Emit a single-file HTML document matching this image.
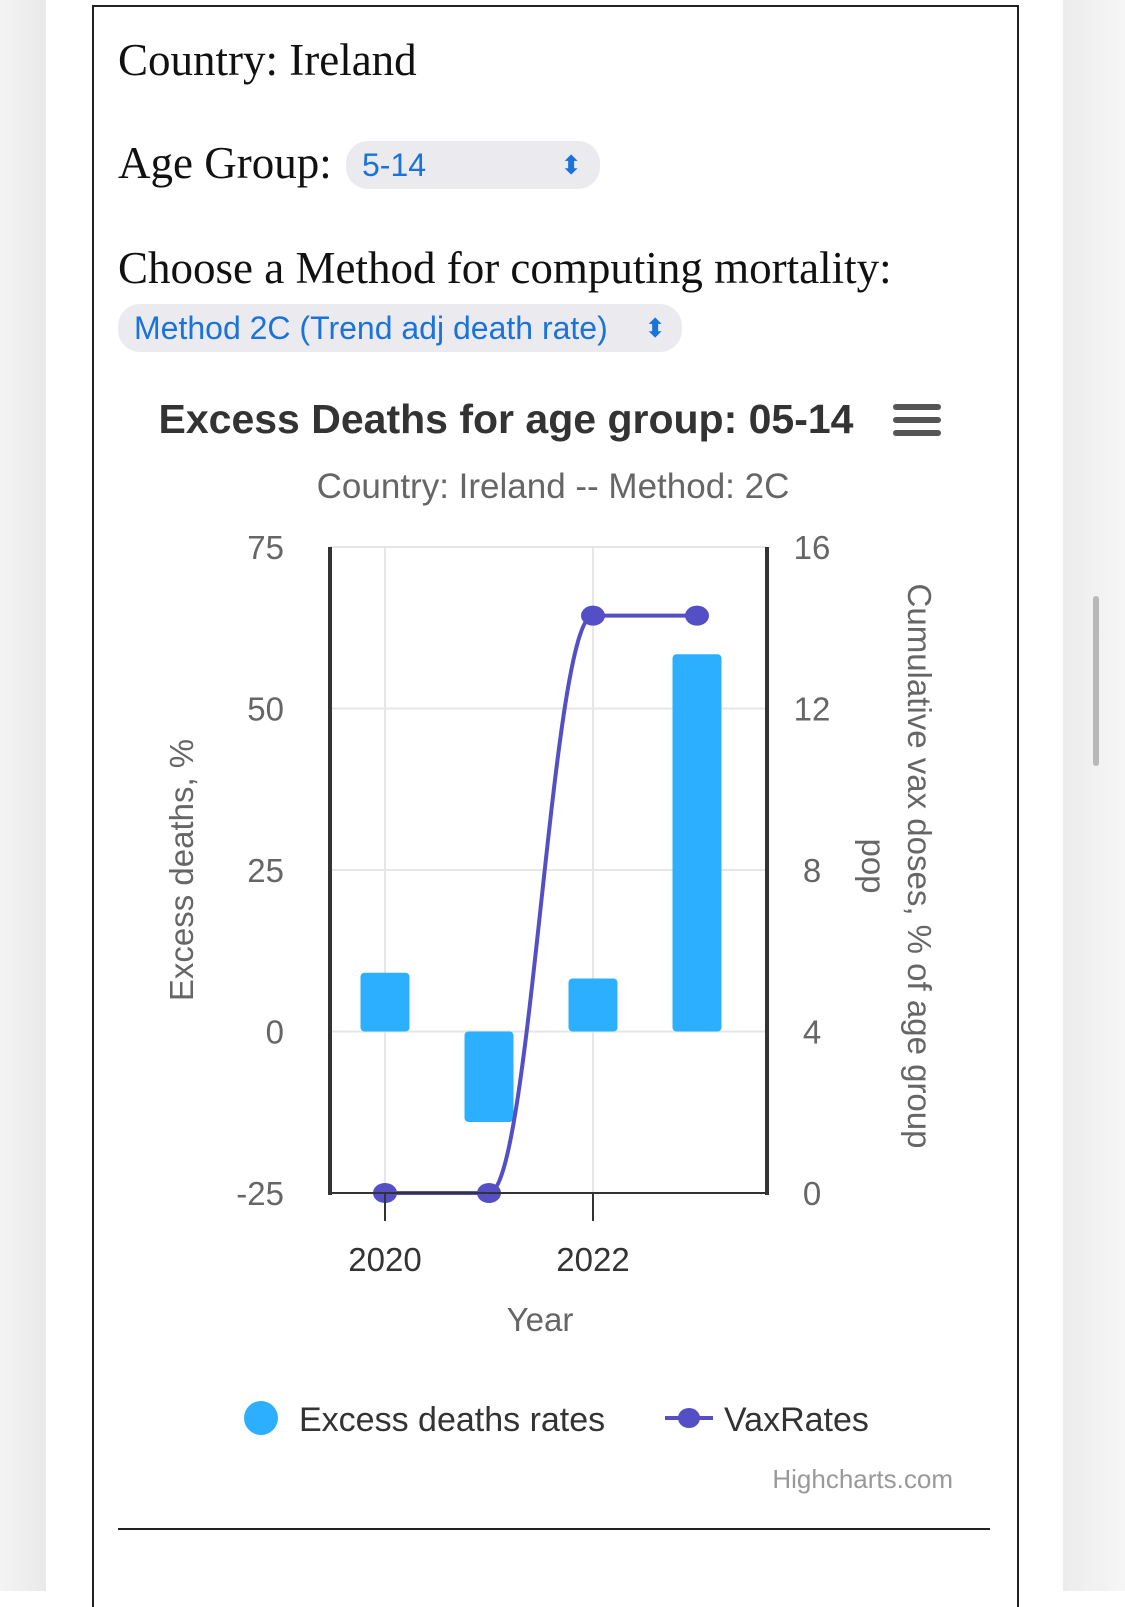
<!DOCTYPE html>
<html><head><meta charset="utf-8"><style>
body{margin:0;width:1125px;height:1591px;background:#fff;position:relative;overflow:hidden;font-family:"Liberation Sans",sans-serif}
.side-l{position:absolute;left:0;top:0;width:46px;height:1591px;background:linear-gradient(90deg,#f4f4f4,#e9e9e9)}
.side-r{position:absolute;right:0;top:0;width:62px;height:1591px;background:linear-gradient(90deg,#ececec,#f6f6f6)}
.box{position:absolute;left:92px;top:5px;width:923px;height:1600px;border:2px solid #222;border-bottom:none}
.serif{font-family:"Liberation Serif",serif;color:#111;position:absolute}
.sel{position:absolute;background:#ebebef;border-radius:22px;color:#1a73d9;font-size:32px;line-height:48px}
</style></head><body>
<div class="side-l"></div>
<div class="side-r"></div>
<div style="position:absolute;left:1093px;top:596px;width:6px;height:170px;border-radius:3px;background:#b8b8b8"></div>
<div class="box"></div>
<div class="serif" style="left:118px;top:34px;font-size:45px">Country: Ireland</div>
<div class="serif" style="left:118px;top:137px;font-size:45px">Age Group:</div>
<div class="sel" style="left:346px;top:141px;width:254px;padding-left:16px;box-sizing:border-box">5-14<span style="position:absolute;right:18px;font-size:26px">&#x2B0D;</span></div>
<div class="serif" style="left:118px;top:242px;font-size:45px">Choose a Method for computing mortality:</div>
<div class="sel" style="left:118px;top:304px;width:564px;padding-left:16px;box-sizing:border-box">Method 2C (Trend adj death rate) <span style="position:absolute;right:16px;font-size:26px">&#x2B0D;</span></div>
<div style="position:absolute;left:118px;top:1528px;width:872px;height:2px;background:#222"></div>
<svg id="chart" width="1125" height="1591" style="position:absolute;left:0;top:0" font-family="Liberation Sans, sans-serif">
<text x="506" y="433" text-anchor="middle" font-size="41" font-weight="bold" fill="#333">Excess Deaths for age group: 05-14</text>
<g fill="#555"><rect x="893" y="404" width="48" height="6" rx="3"/><rect x="893" y="417" width="48" height="6" rx="3"/><rect x="893" y="430" width="48" height="6" rx="3"/></g>
<text x="553" y="498" text-anchor="middle" font-size="35" fill="#666">Country: Ireland -- Method: 2C</text>
<g id="grid"></g><g id="bars"></g><g id="line"></g><g id="axes"></g>
<text x="540" y="1331" text-anchor="middle" font-size="33" fill="#666">Year</text>
<text transform="translate(193,870) rotate(-90)" text-anchor="middle" font-size="33" fill="#666">Excess deaths, %</text>
<text transform="translate(908,866) rotate(90)" text-anchor="middle" font-size="33" fill="#666"><tspan x="0" dy="0">Cumulative vax doses, % of age group</tspan><tspan x="0" dy="46">pop</tspan></text>
<g><circle cx="261" cy="1418" r="17" fill="#2caffe"/><text x="299" y="1431" font-size="34" fill="#333">Excess deaths rates</text></g>
<g><line x1="665" y1="1418" x2="713" y2="1418" stroke="#544fc5" stroke-width="4"/><ellipse cx="689" cy="1418" rx="11" ry="10" fill="#544fc5"/><text x="724" y="1431" font-size="34" fill="#333">VaxRates</text></g>
<text x="953" y="1488" text-anchor="end" font-size="26" fill="#999">Highcharts.com</text>
</svg>
<script>
const categories=[2020,2021,2022,2023];
const excessValues=[9.1,-14,8.2,58.4];
const vaxValues=[0,0,14.3,14.3];
const leftTicks=[-25,0,25,50,75];
const rightTicks=[0,4,8,12,16];
const xLabels=["2020","","2022",""];
const NS="http://www.w3.org/2000/svg";
const L=330,R=767,T=547,B=1193;
const x0=385,step=104;
function xs(i){return x0+i*step;}
function yl(v){return B-(v+25)/100*(B-T);}
function yr(v){return B-v/16*(B-T);}
function mk(p,tag,a){const e=document.createElementNS(NS,tag);for(const k in a)e.setAttribute(k,a[k]);p.appendChild(e);return e;}
const grid=document.getElementById('grid'),bars=document.getElementById('bars'),line=document.getElementById('line'),axes=document.getElementById('axes');
leftTicks.forEach((t,i)=>{
  const g=mk(grid,'line',{x1:L,x2:R,y1:yl(t),y2:yl(t),stroke:'#e6e6e6','stroke-width':2});
  
  
  const a=mk(axes,'text',{x:284,y:yl(t)+12,'text-anchor':'end','font-size':33,fill:'#666'});a.textContent=t;
  
  
  const b=mk(axes,'text',{x:812,y:yr(rightTicks[i])+12,'text-anchor':'middle','font-size':33,fill:'#666'});b.textContent=rightTicks[i];
  
  
});
xLabels.forEach((lab,i)=>{
  if(!lab)return;
  const v=mk(grid,'line',{x1:xs(i),x2:xs(i),y1:T,y2:B,stroke:'#e6e6e6','stroke-width':2});
  
  
  const tk=mk(axes,'line',{x1:xs(i),x2:xs(i),y1:B,y2:B+28,stroke:'#333','stroke-width':2});
  
  
  const tx=mk(axes,'text',{x:xs(i),y:1271,'text-anchor':'middle','font-size':33,fill:'#333'});tx.textContent=lab;
  
  
});
const la=mk(axes,'line',{x1:L,x2:L,y1:T,y2:B+2,stroke:'#333','stroke-width':4});


const ra=mk(axes,'line',{x1:R,x2:R,y1:T,y2:B+2,stroke:'#333','stroke-width':4});


const xa=mk(axes,'line',{x1:L,x2:R,y1:B,y2:B,stroke:'#333','stroke-width':2});


excessValues.forEach((v,i)=>{
  const y0=yl(0),y1=yl(v);
  const r=mk(bars,'rect',{x:xs(i)-24.5,y:Math.min(y0,y1),width:49,height:Math.abs(y1-y0),rx:4,fill:'#2caffe'});
  
  
});
let d='M'+xs(0)+' '+yr(vaxValues[0]);
for(let i=1;i<vaxValues.length;i++){
  const xa=xs(i-1),xb=xs(i),ya=yr(vaxValues[i-1]),yb=yr(vaxValues[i]);
  const c=step*0.4;
  d+=' C'+(xa+c)+' '+ya+' '+(xb-c)+' '+yb+' '+xb+' '+yb;
}
const p=mk(line,'path',{d:d,fill:'none',stroke:'#544fc5','stroke-width':4});


vaxValues.forEach((v,i)=>{
  const m=mk(line,'ellipse',{cx:xs(i),cy:yr(v),rx:12,ry:10,fill:'#544fc5'});
  
  
});
</script>
</body></html>
